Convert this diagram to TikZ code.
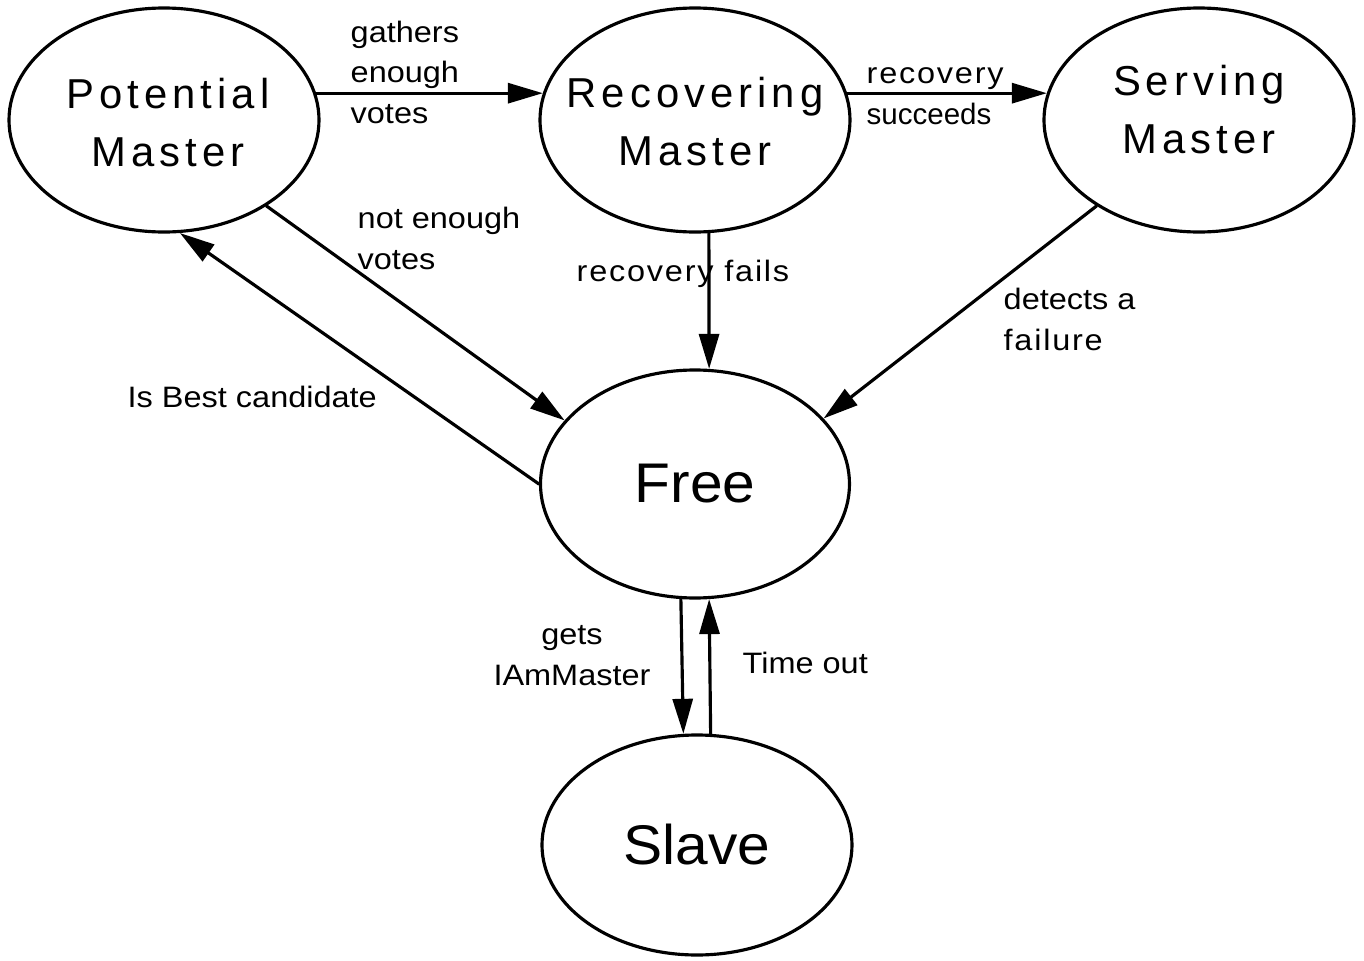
\documentclass[tikz,border=0pt]{standalone}
\usepackage{fontspec}
\setmainfont{Liberation Sans}
\newfontfamily\statefont[LetterSpace=12]{Liberation Sans}
\newfontfamily\bigfont[FakeStretch=1.05]{Liberation Sans}
\newfontfamily\lblfont[FakeStretch=1.1]{Liberation Sans}
\newfontfamily\spacedfont[FakeStretch=1.1, LetterSpace=6]{Liberation Sans}
\usetikzlibrary{arrows.meta}
\usetikzlibrary{shapes.geometric}

\begin{document}
\begin{tikzpicture}[line cap=round, scale = 1,
    state/.style={draw, ellipse, line width=0.9pt, minimum width=3.1cm, minimum height=2.24cm, inner sep=0pt},
    statetext/.style={align=center, inner sep=0pt, font=\statefont\fontsize{11.9}{16.5}\selectfont},
    bigtext/.style={inner sep=0pt, font=\bigfont\fontsize{15.9}{19}\selectfont},
    edgelabel/.style={align=left, anchor=base west, inner sep=0pt, font=\lblfont\fontsize{8.4}{11.4}\selectfont},
    trans/.style={line width=0.9pt, -{Triangle[length=3.5mm, width=2mm]}}]

    \useasboundingbox (0, 0) rectangle (13.64, 9.60);

    \node[state] (pot) at (1.64, 8.40) {};
    \node[state] (rec) at (6.95, 8.40) {};
    \node[state] (serv) at (11.99, 8.40) {};
    \node[state, minimum width=3.09cm, minimum height=2.28cm] (free) at (6.95, 4.76) {};
    \node[state, minimum height=2.20cm] (slave) at (6.97, 1.15) {};

    \node[statetext, xshift=0.04cm, yshift=-0.03cm] (pottext) at (pot) {Potential\\Master};
    \node[statetext, yshift=-0.02cm] (rectext) at (rec) {Recovering\\Master};
    \node[statetext, yshift=0.1cm] (servtext) at (serv) {Serving\\Master};
    \node[bigtext] (freetext) at (free) {Free};
    \node[bigtext] (slavetext) at (slave) {Slave};

    \draw[trans] (pot.10) -- (rec.170);
    \draw[trans] (rec.10) -- (serv.170);
    \draw[trans] (pot.-40) -- (free.154);
    \draw[trans] (free.west) -- (pot.-82);
    \draw[trans] (rec.-83) -- (free.83);
    \draw[trans] (serv.-140) -- (free.27);
    \draw[trans] (free.-97) -- (slave.97);
    \draw[trans] (slave.83) -- (free.-83);

    \node[edgelabel] (gathers) at (3.50, 8.37) {gathers\\enough\\votes};
    \node[edgelabel] (succeeds) at (8.66, 8.36) {{\spacedfont recovery}\\{\rmfamily succeeds}};
    \node[edgelabel] (notenough) at (3.57, 6.91) {not enough\\votes};
    \node[edgelabel] (fails) at (5.76, 6.79) {\spacedfont recovery fails};
    \node[edgelabel] (detects) at (10.03, 6.10) {detects a\\{\spacedfont failure}};
    \node[edgelabel] (best) at (1.27, 5.53) {Is Best candidate};
    \node[edgelabel, align=center, anchor=base] (gets) at (5.72, 2.75) {gets\\IAmMaster};
    \node[edgelabel] (timeout) at (7.42, 2.87) {Time out};
\end{tikzpicture}
\end{document}
